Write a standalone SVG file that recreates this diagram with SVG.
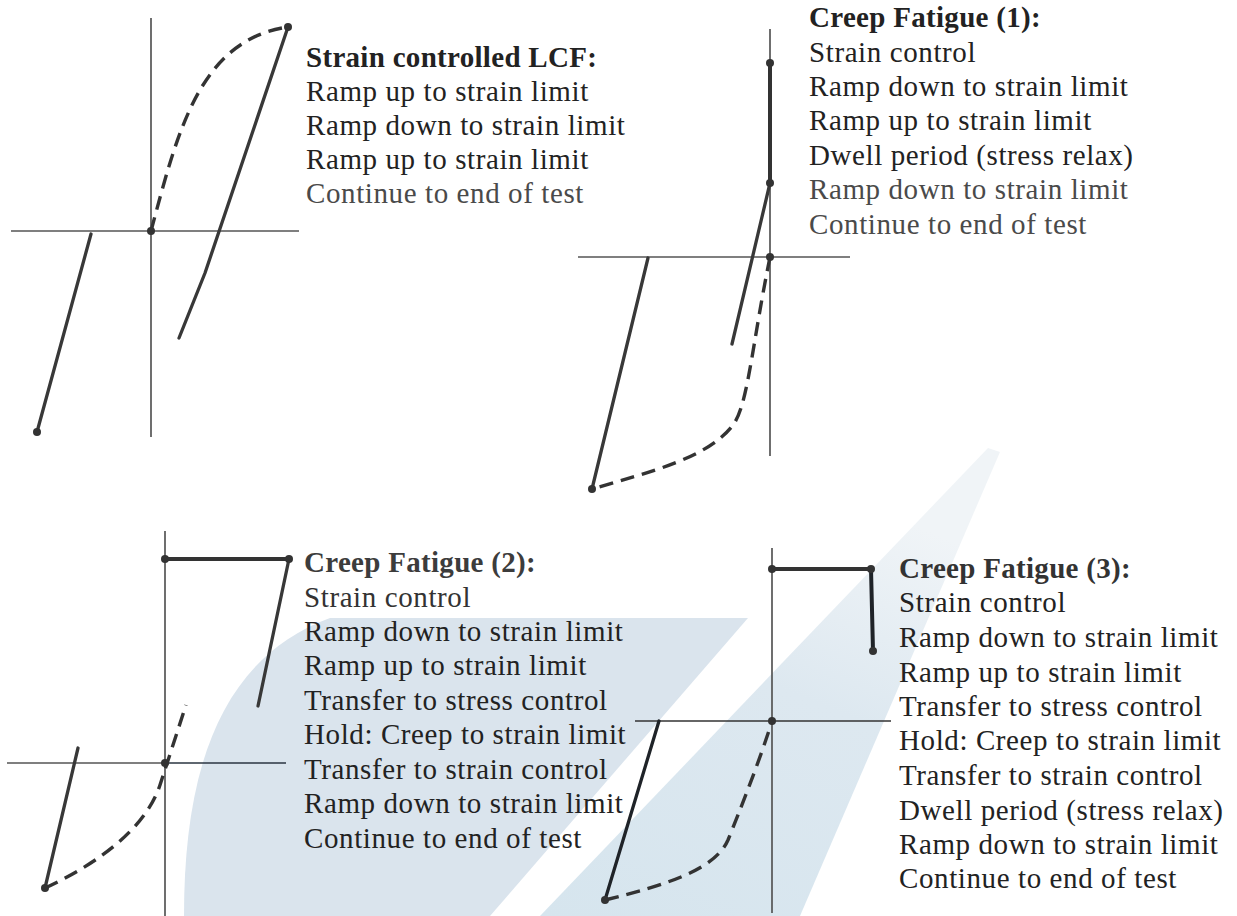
<svg xmlns="http://www.w3.org/2000/svg" width="1237" height="916" viewBox="0 0 1237 916">
  <defs>
    <linearGradient id="bandGrad" x1="0" y1="1" x2="0.4" y2="0">
      <stop offset="0" stop-color="#d6e5ee"/>
      <stop offset="0.6" stop-color="#dde8f0"/>
      <stop offset="1" stop-color="#f0f4f7"/>
    </linearGradient>
    <style>
      .axis { stroke: #555; stroke-width: 1.7; fill: none; }
      .ln { stroke: #383838; stroke-width: 3.3; fill: none; stroke-linecap: round; stroke-linejoin: round; }
      .thick { stroke: #333; stroke-width: 4; fill: none; stroke-linecap: round; }
      .dash { stroke: #333; stroke-width: 3.4; fill: none; stroke-dasharray: 14 8; }
      .dot { fill: #333; }
      .hd { font-family: "Liberation Serif", "Times New Roman", serif; font-weight: bold; font-size: 29px; letter-spacing: 0.3px; fill: #222; }
      .tx { font-family: "Liberation Serif", "Times New Roman", serif; font-size: 29px; letter-spacing: 0.6px; fill: #222; }
      .lt { fill: #4a4a4a; }
    </style>
  </defs>
  <rect width="1237" height="916" fill="#ffffff"/>

  <g id="watermark">
    <path d="M184,916 C184,780 215,660 330,618 L748,618 L490,916 Z" fill="#dae4ed"/>
    <path d="M988,448 L1000,452 L800,916 L540,916 Z" fill="url(#bandGrad)"/>
  </g>

  <g id="panel-lcf">
    <line class="axis" x1="151" y1="18" x2="151" y2="437"/>
    <line class="axis" x1="11" y1="231" x2="299" y2="231"/>
    <text class="hd" x="306" y="67">Strain controlled LCF:</text>
    <text class="tx" x="306" y="101">Ramp up to strain limit</text>
    <text class="tx" x="306" y="135">Ramp down to strain limit</text>
    <text class="tx" x="306" y="169">Ramp up to strain limit</text>
    <text class="tx lt" x="306" y="203">Continue to end of test</text>
  </g>

  <g id="panel-cf1">
    <line class="axis" x1="770" y1="29" x2="770" y2="456"/>
    <line class="axis" x1="578" y1="257" x2="850" y2="257"/>
    <text class="hd" x="809" y="27">Creep Fatigue (1):</text>
    <text class="tx" x="809" y="62">Strain control</text>
    <text class="tx" x="809" y="96">Ramp down to strain limit</text>
    <text class="tx" x="809" y="130">Ramp up to strain limit</text>
    <text class="tx" x="809" y="165">Dwell period (stress relax)</text>
    <text class="tx lt" x="809" y="199">Ramp down to strain limit</text>
    <text class="tx lt" x="809" y="234">Continue to end of test</text>
  </g>

  <g id="panel-cf2">
    <line class="axis" x1="165" y1="531" x2="165" y2="916"/>
    <line class="axis" x1="7" y1="763" x2="165" y2="763"/>
    <line class="axis" x1="165" y1="763" x2="286" y2="763" style="stroke:#2a3440"/>
    <text class="hd" x="304" y="572" style="fill:#3c3c3c">Creep Fatigue (2):</text>
    <text class="tx" x="304" y="607" style="fill:#333">Strain control</text>
    <text class="tx" x="304" y="641">Ramp down to strain limit</text>
    <text class="tx" x="304" y="675">Ramp up to strain limit</text>
    <text class="tx" x="304" y="710">Transfer to stress control</text>
    <text class="tx" x="304" y="744">Hold: Creep to strain limit</text>
    <text class="tx" x="304" y="779">Transfer to strain control</text>
    <text class="tx" x="304" y="813">Ramp down to strain limit</text>
    <text class="tx" x="304" y="848">Continue to end of test</text>
  </g>

  <g id="panel-cf3">
    <line class="axis" x1="772" y1="548" x2="772" y2="913"/>
    <line class="axis" x1="635" y1="721" x2="891" y2="721" style="stroke:#333"/>
    <text class="hd" x="899" y="578" style="fill:#333">Creep Fatigue (3):</text>
    <text class="tx" x="899" y="612">Strain control</text>
    <text class="tx" x="899" y="647">Ramp down to strain limit</text>
    <text class="tx" x="899" y="682">Ramp up to strain limit</text>
    <text class="tx" x="899" y="716">Transfer to stress control</text>
    <text class="tx" x="899" y="750">Hold: Creep to strain limit</text>
    <text class="tx" x="899" y="785">Transfer to strain control</text>
    <text class="tx" x="899" y="820">Dwell period (stress relax)</text>
    <text class="tx" x="899" y="854">Ramp down to strain limit</text>
    <text class="tx" x="899" y="888">Continue to end of test</text>
  </g>

  <g id="connectors">
    <line class="ln" x1="37" y1="432" x2="91" y2="234"/>
    <path class="dash" d="M151,231 C178,130 200,40 288,27"/>
    <polyline class="ln" points="288,27 205,273 179,338"/>
    <line class="thick" x1="770" y1="63" x2="770" y2="183"/>
    <line class="ln" x1="770" y1="183" x2="732" y2="344"/>
    <path class="dash" d="M770,257 C752,345 748,405 733,425 C708,458 650,472 592,489"/>
    <line class="ln" x1="592" y1="489" x2="648" y2="258"/>
    <line class="thick" x1="165" y1="559" x2="289" y2="559"/>
    <line class="ln" x1="289" y1="559" x2="258" y2="706"/>
    <path class="dash" d="M45,888 C95,865 145,830 160,785 L186,705"/>
    <line class="ln" x1="45" y1="888" x2="78" y2="748"/>
    <line class="thick" x1="772" y1="569" x2="871" y2="569"/>
    <line class="thick" x1="871" y1="569" x2="873" y2="651" style="stroke:#1f2328"/>
    <line class="ln" x1="605" y1="900" x2="659" y2="721" style="stroke:#1f2328"/>
    <path class="dash" d="M605,900 C665,885 715,870 728,840 C740,810 760,760 772,721"/>
  </g>

  <g id="points">
    <circle class="dot" cx="151" cy="231" r="4"/>
    <circle class="dot" cx="288" cy="27" r="4"/>
    <circle class="dot" cx="37" cy="432" r="4"/>
    <circle class="dot" cx="770" cy="63" r="4"/>
    <circle class="dot" cx="770" cy="183" r="4"/>
    <circle class="dot" cx="770" cy="257" r="4"/>
    <circle class="dot" cx="592" cy="489" r="4"/>
    <circle class="dot" cx="165" cy="559" r="4"/>
    <circle class="dot" cx="289" cy="559" r="4"/>
    <circle class="dot" cx="165" cy="763" r="4"/>
    <circle class="dot" cx="45" cy="888" r="4"/>
    <circle class="dot" cx="772" cy="569" r="4"/>
    <circle class="dot" cx="871" cy="569" r="4"/>
    <circle class="dot" cx="873" cy="651" r="4"/>
    <circle class="dot" cx="772" cy="721" r="4"/>
    <circle class="dot" cx="605" cy="900" r="4"/>
  </g>
</svg>
